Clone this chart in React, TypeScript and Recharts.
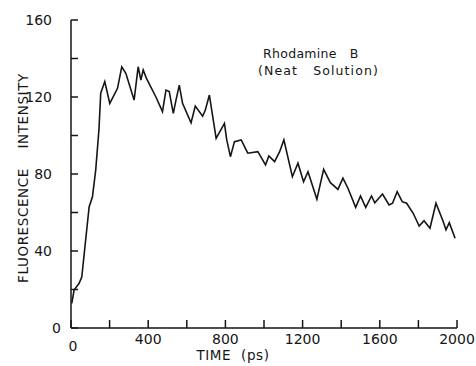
import React from "react";
import { Line, LineChart, XAxis, YAxis } from "recharts";

// time (ps) and fluorescence intensity
const timePs = [
  4, 16, 42, 56, 94, 111, 128, 145, 154, 175, 201, 241, 263, 284, 327, 348, 362, 374, 391,
  440, 474, 492, 509, 530, 544, 561, 578, 622, 644, 682, 696, 717, 752, 795, 807, 826, 847,
  882, 916, 968, 1008, 1025, 1055, 1081, 1103, 1147, 1176, 1205, 1228, 1274, 1309, 1344,
  1383, 1409, 1435, 1475, 1500, 1527, 1557, 1574, 1614, 1648, 1666, 1690, 1716, 1739, 1773,
  1804, 1829, 1860, 1891, 1926, 1943, 1960, 1990,
];
const intensity = [
  12.8, 19.7, 23.2, 26.6, 63, 68, 82, 103.4, 122, 128, 116.7, 124.5, 135.7, 132.3, 118.4,
  135.7, 128.8, 134, 129.7, 120, 112.4, 123.6, 122.8, 111.5, 118.4, 126.2, 116.7, 106.6,
  115.3, 110, 113.2, 121, 98.5, 106.3, 97.7, 89, 96.8, 97.7, 90.8, 91.6, 84.7, 89.4, 86.4,
  91.6, 97.7, 78.6, 85.6, 76, 81.2, 66.9, 82.4, 75.5, 72, 77.8, 72.6, 62.7, 68.6, 62.7, 68.6,
  65, 69.6, 63.9, 64.8, 70.8, 65.6, 64.8, 59.6, 53, 55.7, 51.8, 64.8, 56, 51, 54.7, 46.6,
];

const xTicks = [0, 200, 400, 600, 800, 1000, 1200, 1400, 1600, 1800, 2000];
const xLabelled = [0, 400, 800, 1200, 1600, 2000];
const yTicks = [0, 20, 40, 60, 80, 100, 120, 140, 160];
const yLabelled = [0, 40, 80, 120, 160];

const INK = "#151515";
const FONT = "'DejaVu Sans', sans-serif";

const data = timePs.map((t, i) => ({ t, v: intensity[i] }));

function YTick({ x, y, payload }: any) {
  const v = payload.value;
  return (
    <g>
      <line x1={x} x2={x + 7} y1={y} y2={y} stroke={INK} strokeWidth={1.5} />
      {yLabelled.includes(v) && (
        <text
          x={v === 0 ? x - 10 : x - 19}
          y={y}
          dy="0.36em"
          textAnchor="end"
          fontFamily={FONT}
          fontSize={14}
          fill={INK}
        >
          {v}
        </text>
      )}
    </g>
  );
}

function XTick({ x, y, payload }: any) {
  const v = payload.value;
  return (
    <g>
      <line x1={x} x2={x} y1={y} y2={y - 8} stroke={INK} strokeWidth={1.5} />
      {xLabelled.includes(v) && (
        <text
          x={v === 0 ? x + 2 : x}
          y={v === 0 ? y + 18 : y + 11}
          dy="0.36em"
          textAnchor="middle"
          fontFamily={FONT}
          fontSize={14}
          fill={INK}
        >
          {v}
        </text>
      )}
    </g>
  );
}

function YTitle({ viewBox }: any) {
  const cx = viewBox.x + 23;
  const cy = viewBox.y + viewBox.height / 2 + 4;
  return (
    <text
      x={cx}
      y={cy}
      transform={`rotate(-90 ${cx} ${cy})`}
      textAnchor="middle"
      dominantBaseline="central"
      fontFamily={FONT}
      fontSize={13.5}
      letterSpacing={0.6}
      fill={INK}
      style={{ whiteSpace: "pre" }}
    >
      {"FLUORESCENCE    INTENSITY"}
    </text>
  );
}

function XTitle({ viewBox }: any) {
  const cx = viewBox.x + viewBox.width / 2 - 31;
  return (
    <text
      x={cx}
      y={viewBox.y + 27}
      textAnchor="middle"
      dominantBaseline="central"
      fontFamily={FONT}
      fontSize={13.5}
      letterSpacing={0.6}
      fill={INK}
      style={{ whiteSpace: "pre" }}
    >
      {"TIME  (ps)"}
    </text>
  );
}

export default function App() {
  return (
    <div style={{ position: "absolute", left: 0, top: 0, width: 476, height: 366, background: "#fff" }}>
      <LineChart width={476} height={366} data={data} margin={{ top: 20, right: 19, bottom: 0, left: 0 }}>
        <XAxis
          dataKey="t"
          type="number"
          domain={[0, 2000]}
          ticks={xTicks}
          interval={0}
          height={38}
          tickSize={0}
          tickMargin={0}
          stroke={INK}
          strokeWidth={1.5}
          tick={<XTick />}
          label={<XTitle />}
        />
        <YAxis
          dataKey="v"
          type="number"
          domain={[0, 160]}
          ticks={yTicks}
          interval={0}
          width={71}
          tickSize={0}
          tickMargin={0}
          stroke={INK}
          strokeWidth={1.5}
          tick={<YTick />}
          label={<YTitle />}
        />
        <Line
          type="linear"
          dataKey="v"
          stroke={INK}
          strokeWidth={1.6}
          dot={false}
          isAnimationActive={false}
        />
      </LineChart>
      <div
        style={{
          position: "absolute",
          left: 258,
          top: 45,
          fontFamily: FONT,
          fontSize: 12.5,
          lineHeight: "17px",
          color: INK,
          whiteSpace: "pre",
        }}
      >
        <div style={{ paddingLeft: 5, letterSpacing: 0.3 }}>{"Rhodamine   B"}</div>
        <div style={{ letterSpacing: 1.1 }}>{"(Neat   Solution)"}</div>
      </div>
    </div>
  );
}
